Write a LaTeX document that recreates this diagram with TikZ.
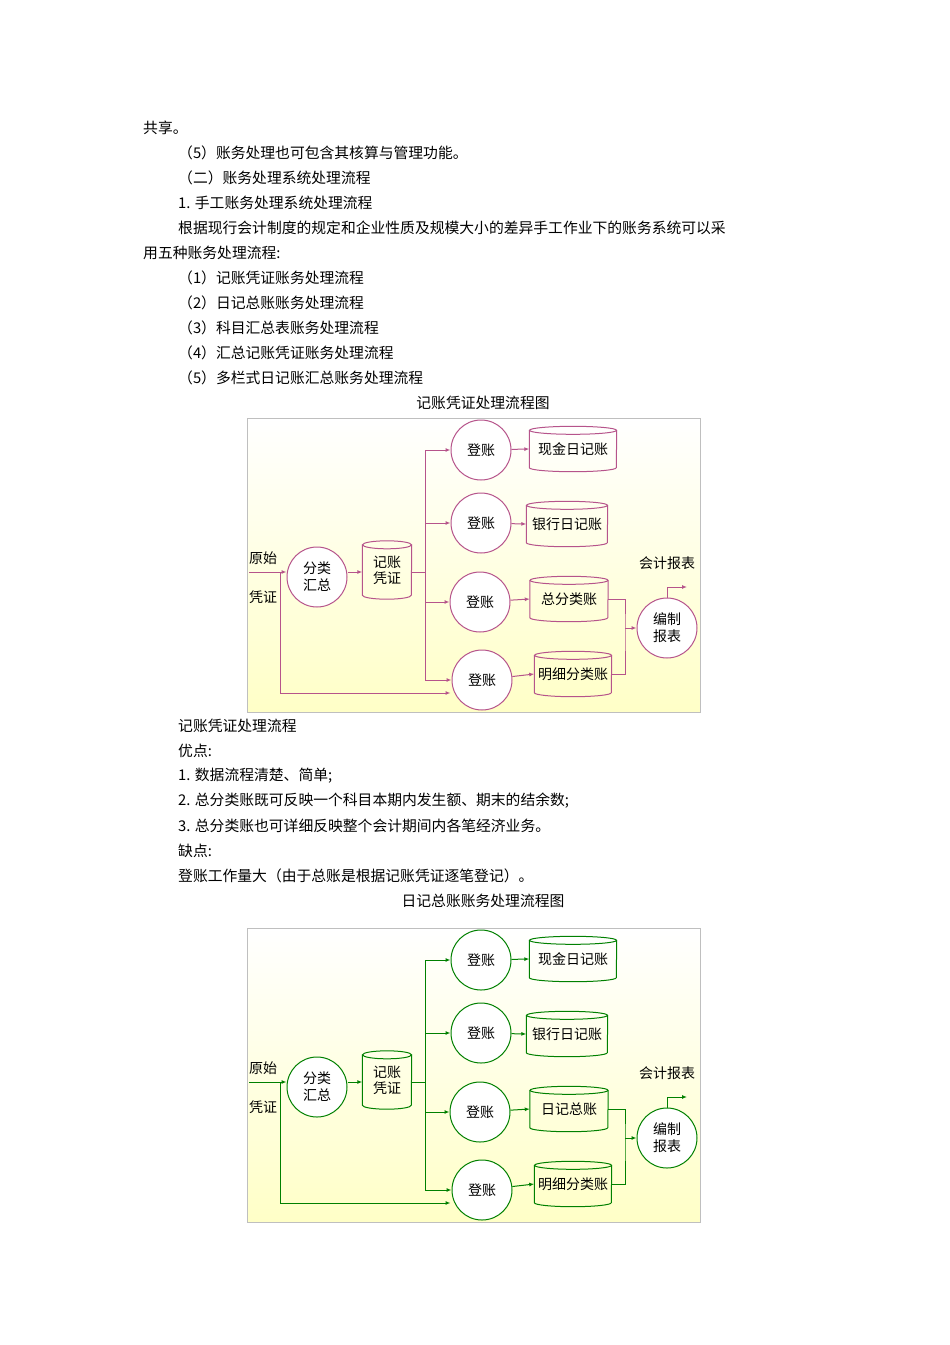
\documentclass[tikz,border=0pt]{standalone}
\usepackage{fontspec}
\setmainfont{Noto Sans CJK SC}
\usetikzlibrary{arrows.meta}
\newcommand\cylx[2]{% name, half width
  \draw[cyl] (#1.north west) -- (#1.south west) arc[start angle=180,end angle=360,x radius=#2,y radius=4pt] -- (#1.north east);
  \draw[cyl] (#1.north) ellipse[x radius=#2,y radius=4pt];}
\newcommand\flow[3]{% prefix, colour, third ledger
\begin{scope}[name prefix=#1-, cyl/.style={draw=#2,line width=1pt},
  circ/.style={circle,draw=#2,line width=1pt,minimum size=60pt,fill=white,inner sep=0pt,align=center,font=\fontsize{14}{17}\selectfont},
  cbox/.style={draw=none,inner sep=0pt,minimum height=37pt,font=\fontsize{14}{16}\selectfont,align=center},
  arr/.style={draw=#2,line width=1pt,-{Latex[length=5pt,width=4pt]}},
  ln/.style={draw=#2,line width=1pt}]
  \shade[top color=white,bottom color=yellow!22] (247,418) rectangle (700,712);
  \draw[draw=black!25] (247,418) rectangle (700,712);
  \node[circ] (a) at (481,450) {登账};
  \node[circ] (b) at (481,523) {登账};
  \node[circ] (c) at (480,602) {登账};
  \node[circ] (d) at (482,680) {登账};
  \node[circ] (s) at (317,577) {分类\\汇总};
  \node[circ] (r) at (667,628) {编制\\报表};
  \node[cbox,minimum width=87pt] (ca) at (573,449) {现金日记账}; \cylx{ca}{43.5pt}
  \node[cbox,minimum width=81pt] (cb) at (567,524) {银行日记账}; \cylx{cb}{40.5pt}
  \node[cbox,minimum width=78pt] (cc) at (569,599) {#3}; \cylx{cc}{39pt}
  \node[cbox,minimum width=77pt] (cd) at (573,674) {明细分类账}; \cylx{cd}{38.5pt}
  \node[cbox,minimum width=49pt,minimum height=50pt] (v) at (387,570) {记账\\凭证}; \cylx{v}{24.5pt}
  \node[font=\fontsize{14}{16}\selectfont,inner sep=0pt] (y1) at (263,558) {原始};
  \node[font=\fontsize{14}{16}\selectfont,inner sep=0pt] (y2) at (263,597) {凭证};
  \node[font=\fontsize{14}{16}\selectfont,inner sep=0pt] (kb) at (667,563) {会计报表};
  \coordinate (in) at (249,572);
  \coordinate (j) at (280,572);
  \coordinate (dy) at (280,693);
  \coordinate (bus) at (425,572);
  \coordinate (m) at (625,628);
  \coordinate (o) at (687,587);
  \draw[arr] (in) -- (s.west|-in);
  \draw[arr] (j) -- (dy) -- ([xshift=-1pt]d.west|-dy);
  \draw[arr] (s.east|-bus) -- (v.west|-bus);
  \draw[ln] (v.east|-bus) -- (bus);
  \draw[ln] (bus|-a) -- (bus|-d);
  \foreach \n in {a,b,c,d} \draw[arr] (bus|-\n) -- (\n);
  \draw[arr] (a) -- (ca.west);
  \draw[arr] (b) -- (cb.west);
  \draw[arr] (c) -- (cc.west);
  \draw[arr] (d) -- (cd.west);
  \draw[ln] (cc.east) -| (m) |- (cd.east);
  \draw[arr] (m) -- (r);
  \draw[arr] (r.north) |- (o);
\end{scope}}
\begin{document}
\begin{tikzpicture}[x=1pt,y=-1pt,every node/.style={font=\fontsize{14.8}{17}\selectfont}]
\useasboundingbox[fill=white] (0,0) rectangle (950,1345);
\foreach \t/\x/\y in {共享。/143/128,（5）账务处理也可包含其核算与管理功能。/178/153,（二）账务处理系统处理流程/178/178,
 1. 手工账务处理系统处理流程/178/203,根据现行会计制度的规定和企业性质及规模大小的差异手工作业下的账务系统可以采/178/228,
 用五种账务处理流程:/143/253,（1）记账凭证账务处理流程/178/278,（2）日记总账账务处理流程/178/303,
 （3）科目汇总表账务处理流程/178/328,（4）汇总记账凭证账务处理流程/178/353,（5）多栏式日记账汇总账务处理流程/178/378,
 记账凭证处理流程/178/726,优点:/178/751,1. 数据流程清楚、简单;/178/776,2. 总分类账既可反映一个科目本期内发生额、期末的结余数;/178/801,
 3. 总分类账也可详细反映整个会计期间内各笔经济业务。/178/826,缺点:/178/851,登账工作量大（由于总账是根据记账凭证逐笔登记）。/178/876}
  \node[anchor=west,inner sep=0pt] at (\x,\y) {\t};
\node[inner sep=0pt] (t1) at (483,403) {记账凭证处理流程图};
\node[inner sep=0pt] (t2) at (483,901) {日记总账账务处理流程图};
\flow{p}{magenta!65!black!85}{总分类账}
\begin{scope}[yshift=-510pt]
\flow{g}{green!50!black}{日记总账}
\end{scope}
\end{tikzpicture}
\end{document}
